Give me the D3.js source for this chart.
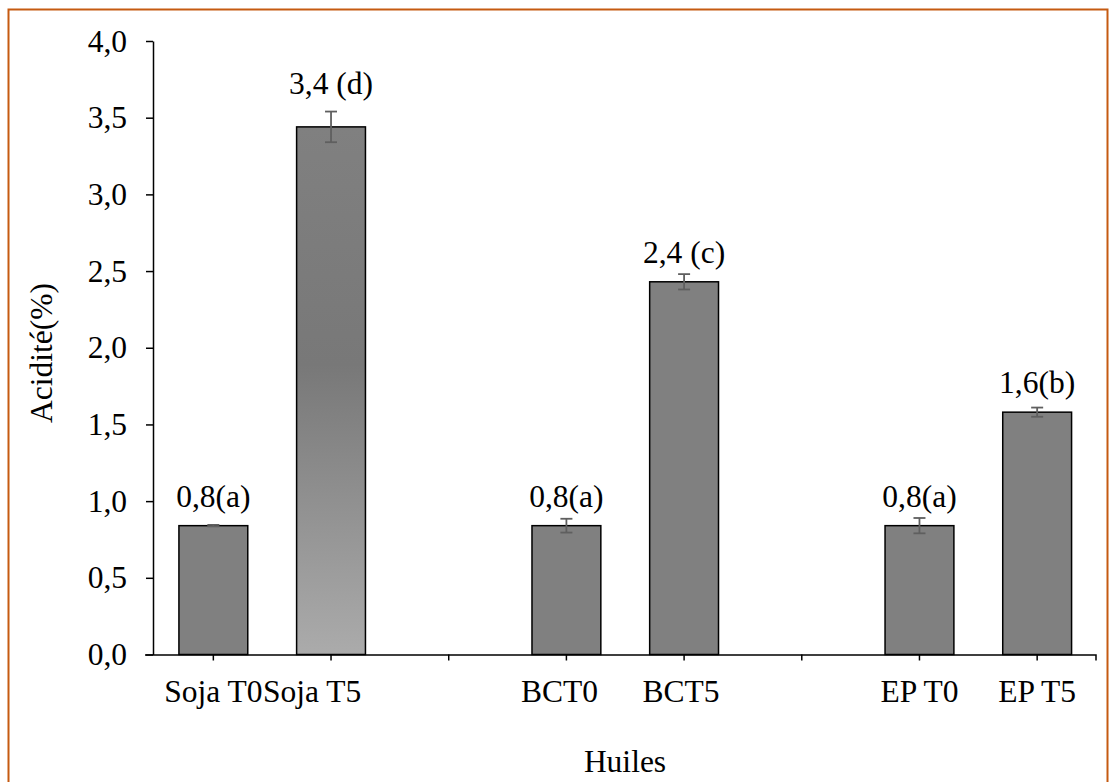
<!DOCTYPE html>
<html lang="fr">
<head>
<meta charset="utf-8">
<script src="https://cdn.jsdelivr.net/npm/d3@7"></script>
<style>
  html, body { margin: 0; padding: 0; background: #fff; }
  svg { display: block; font-family: "Liberation Serif", "Times New Roman", serif; }
</style>
</head>
<body>
<svg id="chart" width="1116" height="782"></svg>
<script>
// Acidité des huiles (%) à T0 et T5
const categories = ["Soja T0", "Soja T5", "BCT0", "BCT5", "EP T0", "EP T5"];
const acidity    = [0.84, 3.44, 0.84, 2.43, 0.84, 1.58];
const errors     = [0.005, 0.10, 0.045, 0.05, 0.05, 0.03];
const letters    = ["(a)", " (d)", "(a)", " (c)", "(a)", "(b)"];
const groupSize  = 2;   // two oils per group, an empty slot between groups
const yTicks     = [0, 0.5, 1, 1.5, 2, 2.5, 3, 3.5, 4];

const svg = d3.select("#chart");
const FONT = 31.5;
// horizontal nudges for category labels that sit off their tick
const labelNudge = { "Soja T5": -19, "BCT0": -7, "BCT5": -3 };

// chart frame
svg.append("rect")
  .attr("x", 8.5).attr("y", 9.5)
  .attr("width", 1099).attr("height", 800)
  .attr("fill", "#fff")
  .attr("stroke", "#c55a11").attr("stroke-width", 2);

// slot layout: categories with spacer slots between groups
const slots = [];
categories.forEach((c, i) => {
  if (i > 0 && i % groupSize === 0) slots.push("gap" + i);
  slots.push(c);
});

const x = d3.scaleBand().domain(slots).range([154.5, 1096]).paddingInner(0.415).paddingOuter(0.2075);
const y = d3.scaleLinear().domain([0, 4]).range([654.5, 41]);
const axisX = 153;

const fmt = v => d3.format(".1f")(v).replace(".", ",");

// y axis
const gy = svg.append("g").attr("transform", `translate(${axisX},0)`)
  .call(d3.axisLeft(y).tickValues(yTicks).tickFormat(fmt).tickSize(7).tickSizeOuter(0).tickPadding(19));
gy.select(".domain").attr("stroke", "#000").attr("stroke-width", 1.5);
gy.selectAll(".tick line").attr("stroke", "#000").attr("stroke-width", 1.5);
gy.selectAll(".tick text")
  .attr("font-family", "Liberation Serif, serif").attr("font-size", FONT).attr("fill", "#000");

// vertical gradient used by Soja T5
const defs = svg.append("defs");
const grad = defs.append("linearGradient").attr("id", "sojaT5").attr("x1", 0).attr("y1", 0).attr("x2", 0).attr("y2", 1);
grad.append("stop").attr("offset", "0%").attr("stop-color", "#808080");
grad.append("stop").attr("offset", "45%").attr("stop-color", "#787878");
grad.append("stop").attr("offset", "100%").attr("stop-color", "#ababab");

// bars
svg.append("g").selectAll("rect")
  .data(categories)
  .join("rect")
  .attr("x", d => x(d))
  .attr("y", (d, i) => y(acidity[i]))
  .attr("width", x.bandwidth())
  .attr("height", (d, i) => y(0) - y(acidity[i]))
  .attr("fill", d => d === "Soja T5" ? "url(#sojaT5)" : "#808080")
  .attr("stroke", "#000").attr("stroke-width", 1.5);

// x axis
const gx = svg.append("g").attr("transform", `translate(0,${y(0)})`)
  .call(d3.axisBottom(x).tickFormat(d => d.startsWith("gap") ? "" : d).tickSize(6).tickSizeOuter(6).tickPadding(19));
gx.select(".domain").attr("stroke", "#000").attr("stroke-width", 1.5)
  .attr("d", `M${axisX - 8},0.5H1096V6`);
gx.selectAll(".tick line").attr("stroke", "#000").attr("stroke-width", 1.5);
gx.selectAll(".tick text")
  .attr("font-family", "Liberation Serif, serif").attr("font-size", FONT).attr("fill", "#000")
  .attr("dy", "0.71em")
  .attr("dx", d => labelNudge[d] || 0);

// error bars
const eb = svg.append("g").attr("stroke", "#5f5f5f").attr("stroke-width", 1.8);
categories.forEach((c, i) => {
  const cx = x(c) + x.bandwidth() / 2;
  const top = y(acidity[i] + errors[i]), bot = y(acidity[i] - errors[i]);
  eb.append("line").attr("x1", cx).attr("x2", cx).attr("y1", top).attr("y2", bot);
  eb.append("line").attr("x1", cx - 6).attr("x2", cx + 6).attr("y1", top).attr("y2", top);
  eb.append("line").attr("x1", cx - 6).attr("x2", cx + 6).attr("y1", bot).attr("y2", bot);
});

// value labels, lifted above the error bar when it would collide
svg.append("g").selectAll("text")
  .data(categories)
  .join("text")
  .attr("x", d => x(d) + x.bandwidth() / 2)
  .attr("y", (d, i) => {
    let base = y(acidity[i]) - 19;
    const errTop = y(acidity[i] + errors[i]);
    if (errTop - 4 < base) base = errTop - 18;
    return base;
  })
  .attr("text-anchor", "middle")
  .attr("font-size", FONT).attr("fill", "#000")
  .text((d, i) => fmt(acidity[i]) + letters[i]);

// axis titles
svg.append("text")
  .attr("x", 625).attr("y", 772)
  .attr("text-anchor", "middle").attr("font-size", FONT).attr("fill", "#000")
  .text("Huiles");

svg.append("text")
  .attr("transform", "translate(52,353) rotate(-90)")
  .attr("text-anchor", "middle").attr("font-size", FONT).attr("fill", "#000")
  .text("Acidité(%)");
</script>
</body>
</html>
